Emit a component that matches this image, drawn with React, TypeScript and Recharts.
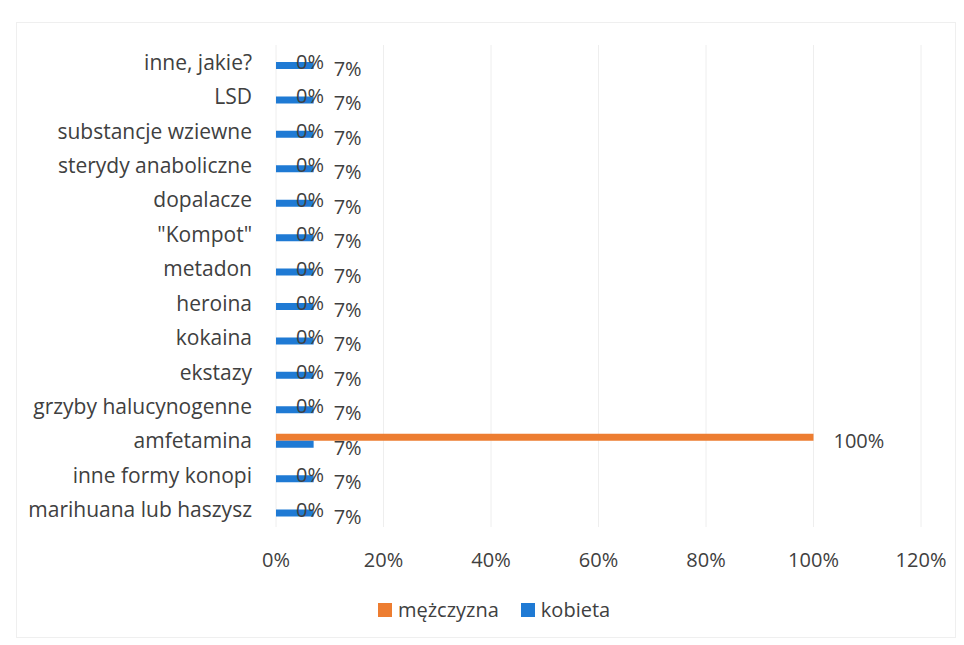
import { BarChart, Bar, XAxis, YAxis, CartesianGrid, Legend, LabelList } from "recharts";

const categories = [
  "inne, jakie?",
  "LSD",
  "substancje wziewne",
  "sterydy anaboliczne",
  "dopalacze",
  '"Kompot"',
  "metadon",
  "heroina",
  "kokaina",
  "ekstazy",
  "grzyby halucynogenne",
  "amfetamina",
  "inne formy konopi",
  "marihuana lub haszysz",
];

const mezczyzna = [0, 0, 0, 0, 0, 0, 0, 0, 0, 0, 0, 1, 0, 0];
const kobieta = [0.07, 0.07, 0.07, 0.07, 0.07, 0.07, 0.07, 0.07, 0.07, 0.07, 0.07, 0.07, 0.07, 0.07];

const xTicks = [0, 0.2, 0.4, 0.6, 0.8, 1, 1.2];

const ORANGE = "#ED7D31";
const BLUE = "#1F7AD4";
const TEXT = "#404040";
const FONT = "'Open Sans', sans-serif";

const data = categories.map((name, i) => ({
  name,
  mezczyzna: mezczyzna[i],
  kobieta: kobieta[i],
}));

const pct = (v: number) => `${Math.round(v * 100)}%`;

// label drawn to the right of the bar end, also for zero-length bars
function ValueLabel(props: any) {
  const vb = props.viewBox || {};
  const x = props.x ?? vb.x ?? 0;
  const y = props.y ?? vb.y ?? 0;
  const w = props.width ?? vb.width ?? 0;
  const h = props.height ?? vb.height ?? 0;
  return (
    <text
      x={x + Math.max(w, 0) + 20}
      y={y + h / 2 + 3}
      fill={TEXT}
      fontSize={20}
      fontFamily={FONT}
      dominantBaseline="central"
    >
      {pct(Number(props.value))}
    </text>
  );
}

function LegendContent(props: any) {
  const items = [...(props.payload || [])].sort((a: any, b: any) =>
    a.dataKey === "mezczyzna" ? -1 : b.dataKey === "mezczyzna" ? 1 : 0,
  );
  return (
    <div style={{ display: "flex", alignItems: "center", fontFamily: FONT, fontSize: 20, color: TEXT }}>
      {items.map((it: any, i: number) => (
        <div key={i} style={{ display: "flex", alignItems: "center", marginRight: 22 }}>
          <span style={{ display: "inline-block", width: 14, height: 14, background: it.color, marginRight: 6 }} />
          <span>{it.value}</span>
        </div>
      ))}
    </div>
  );
}

export default function App() {
  return (
    <div
      style={{
        position: "absolute",
        left: 0,
        top: 0,
        width: 964,
        height: 645,
        background: "#fff",
        fontFamily: FONT,
      }}
    >
      <div
        style={{
          position: "absolute",
          left: 16,
          top: 22,
          width: 938,
          height: 614,
          border: "1px solid #efefef",
        }}
      />
      <BarChart
        width={964}
        height={645}
        data={data}
        layout="vertical"
        margin={{ top: 45, right: 43, left: 0, bottom: 40 }}
        barGap={0}
        barCategoryGap={10}
      >
        <CartesianGrid horizontal={false} stroke="#eeeeee" />
        <XAxis
          type="number"
          domain={[0, 1.2]}
          ticks={xTicks}
          tickFormatter={pct}
          axisLine={false}
          tickLine={false}
          tickSize={0}
          tickMargin={26}
          height={50}
          tick={{ fill: TEXT, fontSize: 20, fontFamily: FONT }}
        />
        <YAxis
          type="category"
          dataKey="name"
          width={276}
          axisLine={false}
          tickLine={false}
          tickSize={0}
          tickMargin={24}
          interval={0}
          tick={{ fill: TEXT, fontSize: 21, fontFamily: FONT }}
        />
        <Legend
          content={<LegendContent />}
          wrapperStyle={{ left: 378, top: 596, width: 280, height: 28 }}
        />
        <Bar
          dataKey="mezczyzna"
          name="mężczyzna"
          fill={ORANGE}
          barSize={7}
          minPointSize={0.01}
          isAnimationActive={false}
        >
          <LabelList dataKey="mezczyzna" content={<ValueLabel />} />
        </Bar>
        <Bar dataKey="kobieta" name="kobieta" fill={BLUE} barSize={7} isAnimationActive={false}>
          <LabelList dataKey="kobieta" content={<ValueLabel />} />
        </Bar>
      </BarChart>
    </div>
  );
}
